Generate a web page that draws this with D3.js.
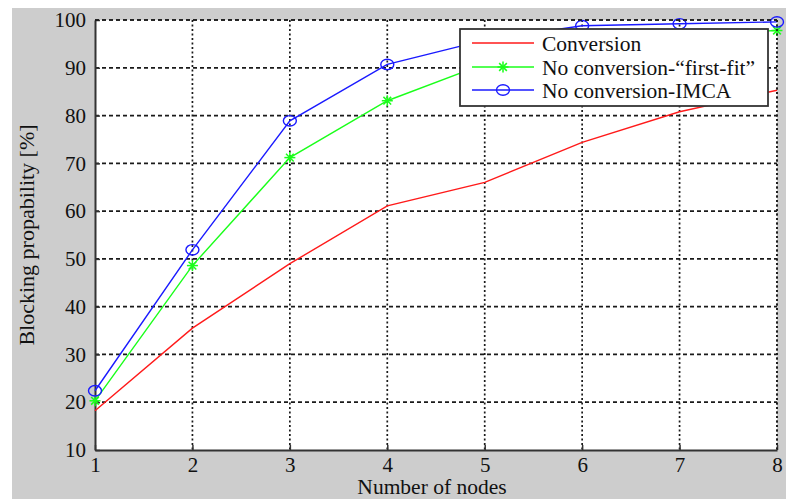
<!DOCTYPE html>
<html>
<head>
<meta charset="utf-8">
<script src="https://cdn.jsdelivr.net/npm/d3@7"></script>
<style>
  html, body { margin: 0; padding: 0; background: #fff; }
  svg { display: block; }
  text { font-family: "Liberation Serif", "Times New Roman", serif; fill: #111; }
</style>
</head>
<body>
<svg id="chart" width="786" height="499"></svg>
<script>
// Number of nodes on the path
const nodes = [1, 2, 3, 4, 5, 6, 7, 8];
// Blocking probability [%] per scheme
const conversion = [18.2, 35.5, 49.0, 61.1, 66.0, 74.4, 80.8, 85.3];
const firstFit   = [20.3, 48.6, 71.2, 83.1, 90.8, 95.5, 97.0, 97.8];
const imca       = [22.4, 51.9, 78.9, 90.7, 95.8, 98.8, 99.2, 99.6];
const seriesNames = ["Conversion", "No conversion-\u201cfirst-fit\u201d", "No conversion-IMCA"];
const yTicks = [10, 20, 30, 40, 50, 60, 70, 80, 90, 100];

(function draw() {
  const svg = d3.select("#chart");
  const W = 786, H = 499;

  // figure background
  svg.append("rect").attr("x", 12).attr("y", 8).attr("width", W - 12).attr("height", H - 8).attr("fill", "#cdcdcd");

  const pL = 95, pR = 777, pT = 20, pB = 450;
  const x = d3.scaleLinear().domain([1, 8]).range([pL, pR]);
  const y = d3.scaleLinear().domain([10, 100]).range([pB, pT]);

  // plot area
  svg.append("rect").attr("x", pL).attr("y", pT).attr("width", pR - pL).attr("height", pB - pT).attr("fill", "#fff");

  // grid
  const grid = svg.append("g");
  grid.selectAll("line.h").data(yTicks.filter(d => d > 10)).enter().append("line")
    .attr("x1", pL).attr("x2", pR).attr("y1", d => y(d)).attr("y2", d => y(d))
    .attr("stroke", "#1a1a1a").attr("stroke-width", 1.7).attr("stroke-dasharray", "4,3");
  grid.selectAll("line.v").data(nodes.filter(d => d > 1)).enter().append("line")
    .attr("y1", pT).attr("y2", pB).attr("x1", d => x(d)).attr("x2", d => x(d))
    .attr("stroke", "#1a1a1a").attr("stroke-width", 1.7).attr("stroke-dasharray", "2,2.5");

  // axes
  const xAxis = d3.axisBottom(x).tickValues(nodes).tickFormat(d3.format("d")).tickSizeInner(-5).tickSizeOuter(0).tickPadding(7);
  const yAxis = d3.axisLeft(y).tickValues(yTicks).tickSizeInner(-5).tickSizeOuter(0).tickPadding(9);
  const gx = svg.append("g").attr("transform", `translate(0,${pB})`).call(xAxis);
  const gy = svg.append("g").attr("transform", `translate(${pL},0)`).call(yAxis);
  [gx, gy].forEach(g => {
    g.select(".domain").attr("stroke", "#333").attr("stroke-width", 2);
    g.selectAll(".tick line").attr("stroke", "#333").attr("stroke-width", 1.5);
    g.selectAll(".tick text").attr("font-family", "Liberation Serif, serif").attr("font-size", 21).attr("fill", "#111");
  });

  // axis titles
  svg.append("text").attr("x", 432).attr("y", 494).attr("text-anchor", "middle")
    .attr("font-size", 21.5).text("Number of nodes");
  svg.append("text").attr("transform", `translate(34,${(pT + pB) / 2}) rotate(-90)`).attr("text-anchor", "middle")
    .attr("font-size", 22).text("Blocking propability [%]");

  // series
  const line = d3.line().x((d, i) => x(nodes[i])).y(d => y(d));
  const colors = ["#ff1a1a", "#1aff1a", "#1a1aff"];
  const data = [conversion, firstFit, imca];
  data.forEach((vals, k) => {
    svg.append("path").datum(vals).attr("d", line).attr("fill", "none")
      .attr("stroke", colors[k]).attr("stroke-width", 1.4);
  });

  function star(g, cx, cy, c) {
    const r = 5.5;
    [[-r, 0, r, 0], [0, -r, 0, r], [-r * 0.7, -r * 0.7, r * 0.7, r * 0.7], [-r * 0.7, r * 0.7, r * 0.7, -r * 0.7]].forEach(s => {
      g.append("line").attr("x1", cx + s[0]).attr("y1", cy + s[1]).attr("x2", cx + s[2]).attr("y2", cy + s[3])
        .attr("stroke", c).attr("stroke-width", 1.5);
    });
  }
  function ring(g, cx, cy, c) {
    g.append("ellipse").attr("cx", cx).attr("cy", cy).attr("rx", 6.5).attr("ry", 5.2)
      .attr("fill", "none").attr("stroke", c).attr("stroke-width", 1.4);
  }
  const marks = svg.append("g");
  firstFit.forEach((v, i) => star(marks, x(nodes[i]), y(v), colors[1]));
  imca.forEach((v, i) => ring(marks, x(nodes[i]), y(v), colors[2]));

  // top/right plot border drawn in grid style
  svg.append("line").attr("x1", pL).attr("x2", pR).attr("y1", pT).attr("y2", pT)
    .attr("stroke", "#1a1a1a").attr("stroke-width", 1.7).attr("stroke-dasharray", "4,3");
  svg.append("line").attr("x1", pR).attr("x2", pR).attr("y1", pT).attr("y2", pB)
    .attr("stroke", "#1a1a1a").attr("stroke-width", 1.7).attr("stroke-dasharray", "2,2.5");

  // legend
  const lg = svg.append("g");
  lg.append("rect").attr("x", 460).attr("y", 29).attr("width", 308).attr("height", 77)
    .attr("fill", "#fff").attr("stroke", "#333").attr("stroke-width", 1.8);
  const rows = [43, 67, 90];
  seriesNames.forEach((name, k) => {
    const yy = rows[k];
    lg.append("line").attr("x1", 472).attr("x2", 534).attr("y1", yy).attr("y2", yy)
      .attr("stroke", colors[k]).attr("stroke-width", 1.4);
    if (k === 1) star(lg, 503, yy, colors[1]);
    if (k === 2) ring(lg, 503, yy, colors[2]);
    lg.append("text").attr("x", 542).attr("y", yy).attr("dy", "0.35em").attr("font-size", 21.5).text(name);
  });
})();
</script>
</body>
</html>
